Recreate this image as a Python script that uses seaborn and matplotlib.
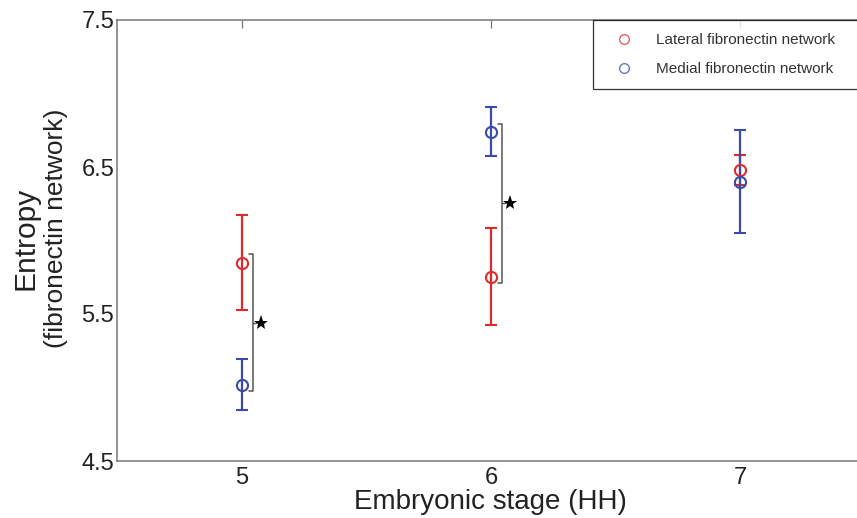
import numpy as np
import pandas as pd
import matplotlib
matplotlib.use("Agg")
import matplotlib.pyplot as plt
from matplotlib.lines import Line2D
import seaborn as sns

# Data lest ur figuren
stages = [5, 6, 7]
lateral_mean = [5.85, 5.755, 6.48]
lateral_err = [0.325, 0.33, 0.10]
medial_mean = [5.02, 6.74, 6.40]
medial_err = [0.175, 0.168, 0.35]
sig_stages = [5, 6]  # stadier med signifikant skillnad (stjärna)

networks = ["Lateral fibronectin network", "Medial fibronectin network"]
colors = {"Lateral fibronectin network": "#dd2b2b",
          "Medial fibronectin network": "#3b49a8"}

df = pd.DataFrame({
    "stage": stages * 2,
    "mean": lateral_mean + medial_mean,
    "err": lateral_err + medial_err,
    "network": [networks[0]] * 3 + [networks[1]] * 3,
})

sns.set_style("white")
plt.rcParams["font.family"] = ["Liberation Sans", "DejaVu Sans"]

fig = plt.figure(figsize=(8.57, 5.18), dpi=100)
ax = fig.add_axes([117 / 857, 57 / 518, 747.75 / 857, 441 / 518])

# Felstaplar med öppna cirklar
for net in networks:
    d = df[df["network"] == net]
    ax.errorbar(d["stage"], d["mean"], yerr=d["err"], fmt="o",
                color=colors[net], mfc="none", mec=colors[net], ms=8,
                mew=1.5, elinewidth=1.6, capsize=4.3, capthick=1.6)

# Klammer och stjärna för signifikans
for s in sig_stages:
    vals = df[df["stage"] == s]["mean"]
    lo, hi = vals.min() - 0.045, vals.max() + 0.055
    bx = s + 0.045
    ax.plot([bx - 0.016, bx, bx, bx - 0.016], [lo, lo, hi, hi],
            color="#555555", lw=1.1)
    mid = (lo + hi) / 2
    ax.plot([bx, bx + 0.012], [mid, mid], color="#555555", lw=1.0)
    ax.plot(s + 0.078, mid, marker="*", color="black", ms=11, mew=0)

ax.set_xlim(4.5, 7.5)
ax.set_ylim(4.5, 7.5)
ax.set_xticks([5, 6, 7])
ax.set_yticks([4.5, 5.5, 6.5, 7.5])
ax.set_yticklabels(["4.5", "5.5", "6.5", "7.5"])

for sp in ax.spines.values():
    sp.set_visible(True)
    sp.set_color("#777777")
    sp.set_linewidth(1.1)
ax.tick_params(direction="in", length=6, width=0.9, color="#777777",
               labelsize=17, labelcolor="#222222", top=True, right=True)
ax.tick_params(axis="y", pad=2)
ax.tick_params(axis="x", pad=4)

ax.set_xlabel("Embryonic stage (HH)", fontsize=20, color="#222222", labelpad=0)
# Y-etikett: två centrerade rader
fig.text(26 / 857, 1 - 238 / 518, "Entropy", rotation=90, ha="center",
         va="center", fontsize=21.5, color="#222222")
fig.text(56 / 857, 1 - 228 / 518, "(fibronectin network)", rotation=90,
         ha="center", va="center", fontsize=19, color="#222222")

handles = [Line2D([], [], ls="none", marker="o", mfc="none",
                  mec=colors[n], ms=7, mew=1.0, alpha=0.75) for n in networks]
x0 = (593 - 117) / 747.75
leg = ax.legend(handles, networks, loc="upper left",
                bbox_to_anchor=(x0, 0, 1 - x0, 1), mode="expand",
                borderaxespad=0, fontsize=11, frameon=True, fancybox=False,
                borderpad=0.85, labelspacing=1.0, handlelength=2.3,
                handletextpad=1.0)
leg.get_frame().set_edgecolor("black")
leg.get_frame().set_linewidth(0.9)
for t in leg.get_texts():
    t.set_color("#333333")

fig.savefig("out.png", dpi=100)
